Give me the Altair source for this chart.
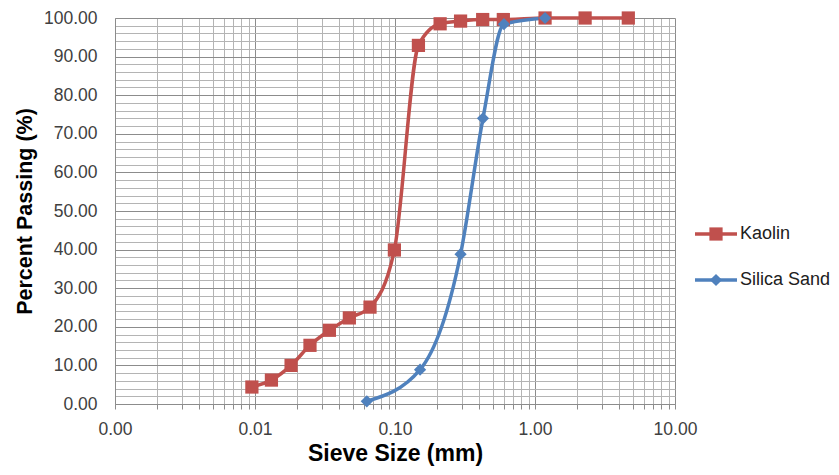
import altair as alt
import pandas as pd

series_names = ["Kaolin", "Silica Sand"]
series_colors = ["#C0504D", "#4F81BD"]
series_shapes = ["square", "diamond"]

kaolin_size = [0.0095, 0.0131, 0.0181, 0.0247, 0.034, 0.0472, 0.0663, 0.099,
               0.147, 0.21, 0.294, 0.423, 0.594, 1.18, 2.28, 4.64]
kaolin_pass = [4.4, 6.2, 10.0, 15.2, 19.1, 22.3, 25.1, 39.9,
               92.9, 98.5, 99.2, 99.6, 99.6, 100.0, 100.0, 100.0]
silica_size = [0.0629, 0.151, 0.294, 0.425, 0.6, 1.18]
silica_pass = [0.7, 8.9, 38.8, 74.0, 98.4, 100.0]

x_ticks = [round(k * d, 6) for d in [0.001, 0.01, 0.1, 1.0] for k in range(1, 10)] + [10.0]
y_ticks = list(range(0, 101, 2))

df = pd.DataFrame({
    "size": kaolin_size + silica_size,
    "passing": kaolin_pass + silica_pass,
    "series": ["Kaolin"] * len(kaolin_size) + ["Silica Sand"] * len(silica_size),
})
legend_df = pd.DataFrame({"series": series_names})

FONT = "Liberation Sans"
color_scale = alt.Scale(domain=series_names, range=series_colors)
shape_scale = alt.Scale(domain=series_names, range=series_shapes)

is_decade = "abs(log(datum.value)/LN10 - round(log(datum.value)/LN10)) < 0.001"

x_enc = alt.X(
    "size:Q",
    scale=alt.Scale(type="log", domain=[0.001, 10], nice=False),
    axis=alt.Axis(
        values=x_ticks,
        tickCount=100,
        labelExpr=f"({is_decade}) ? format(datum.value, '.2f') : ''",
        title="Sieve Size (mm)",
        titleFont=FONT, titleFontSize=23, titleFontWeight="bold", titleColor="#000000",
        titlePadding=5,
        labelFont=FONT, labelFontSize=17.5, labelColor="#404040", labelPadding=11,
        labelFlush=False, labelOverlap=False,
        gridColor={"condition": {"test": is_decade, "value": "#8c8c8c"}, "value": "#b4b4b4"},
        gridWidth=1,
        tickColor="#8c8c8c", tickSize=5,
        domainColor="#8c8c8c",
    ),
)
y_enc = alt.Y(
    "passing:Q",
    scale=alt.Scale(domain=[0, 100], nice=False),
    axis=alt.Axis(
        values=y_ticks,
        tickCount=100,
        labelExpr="datum.value % 10 === 0 ? format(datum.value, '.2f') : ''",
        title="Percent Passing (%)",
        titleFont=FONT, titleFontSize=21.5, titleFontWeight="bold", titleColor="#000000",
        titlePadding=7,
        labelFont=FONT, labelFontSize=17.5, labelColor="#404040", labelPadding=18,
        labelOverlap=False,
        ticks=False,
        gridColor={"condition": {"test": "datum.value % 10 === 0", "value": "#8c8c8c"}, "value": "#b4b4b4"},
        gridWidth=1,
        domainColor="#8c8c8c",
    ),
)

base = alt.Chart(df)
lines = base.mark_line(strokeWidth=3.5, interpolate="monotone").encode(
    x=x_enc, y=y_enc,
    color=alt.Color("series:N", scale=color_scale, legend=None),
    detail="series:N",
)
points = base.mark_point(filled=True, opacity=1).encode(
    x="size:Q", y="passing:Q",
    color=alt.Color("series:N", scale=color_scale, legend=None),
    shape=alt.Shape("series:N", scale=shape_scale, legend=None),
    size=alt.Size("series:N", scale=alt.Scale(domain=series_names, range=[175, 150]), legend=None),
)
main = alt.layer(lines, points).properties(width=560, height=386)

ly = alt.Y("series:N", scale=alt.Scale(type="point", domain=series_names, range=[216, 262], padding=0), axis=None)
leg_base = alt.Chart(legend_df)
leg_rule = leg_base.mark_rule(strokeWidth=3.5).encode(
    x=alt.value(0), x2=alt.value(42), y=ly,
    color=alt.Color("series:N", scale=color_scale, legend=None),
)
leg_pt = leg_base.mark_point(filled=True, opacity=1).encode(
    x=alt.value(21), y=ly,
    color=alt.Color("series:N", scale=color_scale, legend=None),
    shape=alt.Shape("series:N", scale=shape_scale, legend=None),
    size=alt.Size("series:N", scale=alt.Scale(domain=series_names, range=[120, 110]), legend=None),
)
leg_txt = leg_base.mark_text(align="left", baseline="middle", font=FONT, fontSize=18, color="#202020").encode(
    x=alt.value(45), y=ly, text="series:N",
)
legend_panel = alt.layer(leg_rule, leg_pt, leg_txt).properties(width=135, height=386)

chart = alt.hconcat(main, legend_panel, spacing=20, bounds="flush").resolve_scale(
    y="independent"
).properties(
    padding={"left": 14, "top": 9, "right": 0, "bottom": 0},
    background="white",
).configure_view(stroke=None)

chart.save("out.html", embed_options={"renderer": "svg", "actions": False})
